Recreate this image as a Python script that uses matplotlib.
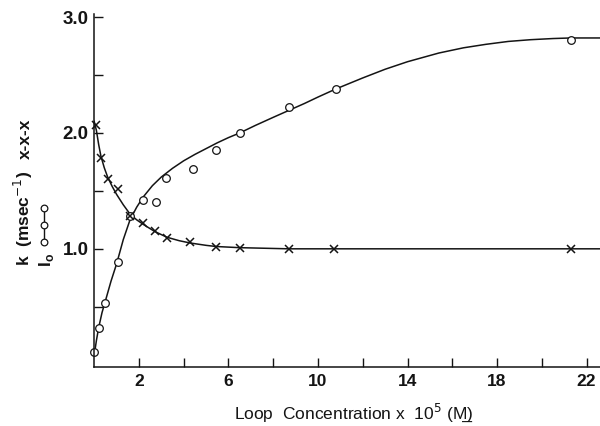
import matplotlib
matplotlib.use('Agg')
import matplotlib.pyplot as plt
from matplotlib.lines import Line2D

plt.rcParams['font.family'] = ['Liberation Sans', 'DejaVu Sans']

# measured points, I_o (circles)
conc_o = [0.0, 0.2, 0.5, 1.07, 1.6, 2.2, 2.75, 3.2, 4.4, 5.45, 6.5, 8.7, 10.8, 21.3]
io_vals = [0.11, 0.32, 0.53, 0.89, 1.28, 1.42, 1.40, 1.61, 1.69, 1.85, 2.00, 2.22, 2.38, 2.80]

# measured points, k (crosses)
conc_x = [0.1, 0.3, 0.6, 1.07, 1.6, 2.2, 2.7, 3.25, 4.3, 5.45, 6.5, 8.7, 10.7, 21.3]
k_vals = [2.07, 1.78, 1.60, 1.52, 1.28, 1.22, 1.15, 1.09, 1.06, 1.02, 1.01, 1.0, 1.0, 1.0]

# hand-drawn fit curves
fit_o_x = [0.0, 0.1, 0.2, 0.35, 0.5, 0.75, 1.0, 1.3, 1.6, 1.9, 2.2, 2.6, 3.0, 3.5, 4.0, 4.5,
           5.0, 5.5, 6.0, 6.5, 7.2, 8.0, 8.7, 9.4, 10.0, 10.8, 12.0, 13.0, 14.0, 15.4, 16.5,
           17.5, 18.5, 19.5, 20.5, 21.3, 22.6]
fit_o_y = [0.08, 0.21, 0.32, 0.45, 0.55, 0.72, 0.87, 1.08, 1.25, 1.36, 1.45, 1.545, 1.62, 1.695,
           1.76, 1.815, 1.865, 1.915, 1.96, 2.0, 2.065, 2.135, 2.195, 2.255, 2.31, 2.38, 2.475,
           2.55, 2.615, 2.69, 2.735, 2.765, 2.79, 2.805, 2.815, 2.82, 2.82]
fit_x_x = [0.0, 0.1, 0.2, 0.3, 0.45, 0.6, 0.8, 1.0, 1.3, 1.6, 1.9, 2.2, 2.7, 3.25, 3.8, 4.3,
           5.0, 5.45, 6.5, 8.7, 22.6]
fit_x_y = [2.1, 2.02, 1.9, 1.8, 1.7, 1.62, 1.54, 1.47, 1.38, 1.30, 1.25, 1.21, 1.15, 1.10,
           1.07, 1.05, 1.03, 1.02, 1.01, 1.0, 1.0]

xticks = [2, 4, 6, 8, 10, 12, 14, 16, 18, 20, 22]
xticklabels = ['2', '', '6', '', '10', '', '14', '', '18', '', '22']
yticks = [1.0, 2.0, 3.0]
yticklabels = ['1.0', '2.0', '3.0']
yminor = [0.5, 1.5, 2.5]

ink = '#141414'

fig = plt.figure(figsize=(6, 4.26), dpi=100)
ax = fig.add_axes([0.157, 0.1385, 0.843, 0.8295])

ax.plot(fit_o_x, fit_o_y, color=ink, lw=1.1)
ax.plot(fit_x_x, fit_x_y, color=ink, lw=1.1)
ax.plot(conc_o, io_vals, 'o', ms=5.5, mfc='white', mec=ink, mew=0.9, clip_on=False)
ax.plot(conc_x, k_vals, 'x', ms=6, mec=ink, mew=1.1, clip_on=False)

ax.set_xlim(0, 22.6)
ax.set_ylim(-0.02, 3.03)

ax.spines['top'].set_visible(False)
ax.spines['right'].set_visible(False)
for s in ['left', 'bottom']:
    ax.spines[s].set_color(ink)
    ax.spines[s].set_linewidth(1.1)

ax.set_xticks(xticks)
ax.set_xticklabels(xticklabels)
ax.set_yticks(yticks)
ax.set_yticklabels(yticklabels)
ax.set_yticks(yminor, minor=True)
ax.tick_params(axis='both', which='both', direction='in', length=6.5, width=1, color=ink)
ax.tick_params(axis='x', pad=5)
ax.tick_params(axis='y', pad=4)
for lab in ax.get_xticklabels():
    lab.set_fontsize(12.5)
    lab.set_fontweight('bold')
    lab.set_color(ink)
for lab in ax.get_yticklabels():
    lab.set_fontsize(13.5)
    lab.set_fontweight('bold')
    lab.set_color(ink)

fig.text(234 / 600, 1 - 424 / 426, 'Loop  Concentration x  10$^5$ (M\u0332)', ha='left',
         va='bottom', fontsize=12.5, color=ink)

# y label, first line: k with its cross key
fig.text(23 / 600, 1 - 266 / 426, 'k  (msec$^{-1}$)', rotation=90, ha='center',
         va='bottom', fontsize=12.5, fontweight='bold', color=ink)
fig.text(25 / 600, 1 - 159 / 426, 'x-x-x', rotation=90, ha='center',
         va='bottom', fontsize=12.5, fontweight='bold', color=ink)
# second line: I_o with its circle key
fig.text(46 / 600, 1 - 267 / 426, 'I$_\\mathregular{o}$', rotation=90, ha='center',
         va='bottom', fontsize=12.5, fontweight='bold', color=ink)
key_y = [1 - 242 / 426, 1 - 225 / 426, 1 - 208 / 426]
fig.add_artist(Line2D([44 / 600] * 3, key_y, color=ink, lw=1.0, marker='o', ms=4.8,
                      mfc='white', mec=ink, mew=0.9, transform=fig.transFigure))

fig.savefig('out.png', dpi=100)
